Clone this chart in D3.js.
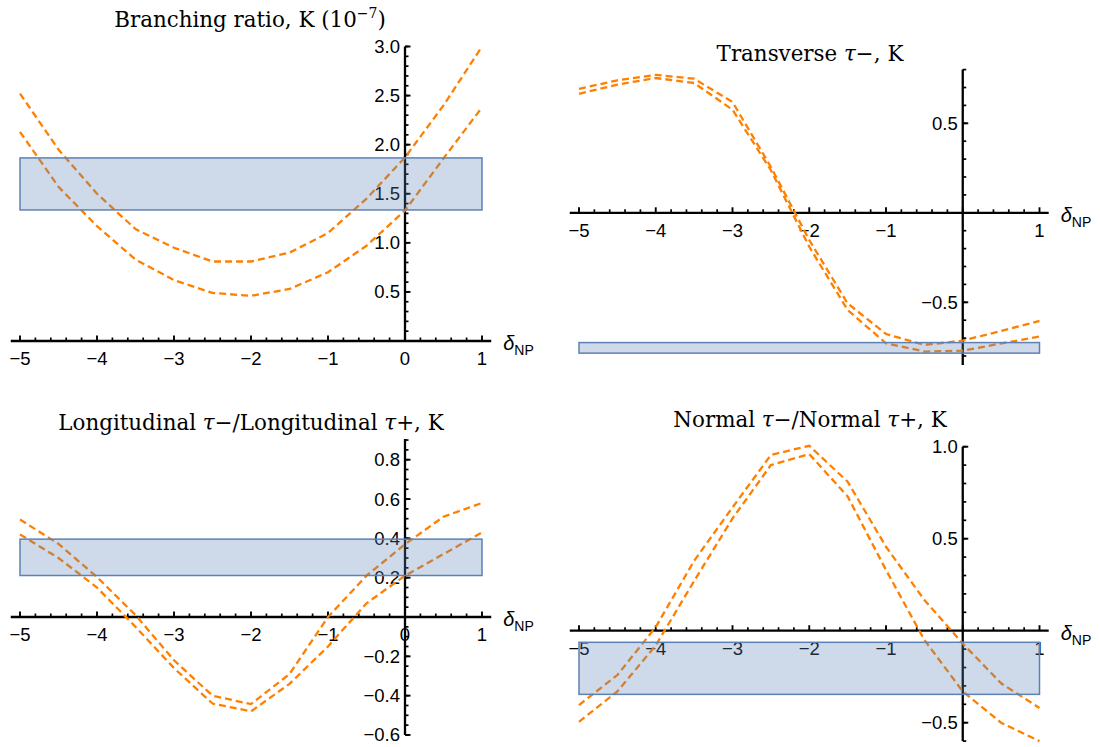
<!DOCTYPE html>
<html><head><meta charset="utf-8">
<script src="https://cdn.jsdelivr.net/npm/d3@7"></script>
<style>
body{margin:0;background:#fff;}
svg{display:block;}
.tick-label{font-family:"Liberation Sans",Arial,sans-serif;font-size:18.5px;fill:#000;}
.title{font-family:"DejaVu Serif",serif;font-size:21.4px;fill:#000;}
</style></head>
<body>
<svg id="chart" width="1100" height="747"></svg>
<script>
// ---------------- data ----------------
const deltaNP = [-5, -4.5, -4, -3.5, -3, -2.5, -2, -1.5, -1, -0.5, 0, 0.5, 1];

const brUpper = [2.52, 1.95, 1.50, 1.14, 0.95, 0.81, 0.81, 0.90, 1.10, 1.45, 1.87, 2.40, 3.00];
const brLower = [2.13, 1.57, 1.17, 0.83, 0.62, 0.49, 0.46, 0.53, 0.70, 0.97, 1.33, 1.86, 2.38];
const brBand = [1.335, 1.865];

const transUpper = [0.693, 0.740, 0.771, 0.749, 0.619, 0.256, -0.152, -0.506, -0.677, -0.738, -0.714, -0.660, -0.604];
const transLower = [0.665, 0.716, 0.753, 0.725, 0.576, 0.238, -0.190, -0.543, -0.729, -0.775, -0.770, -0.730, -0.691];
const transBand = [-0.784, -0.725];

const longUpper = [0.496, 0.372, 0.203, 0.010, -0.220, -0.400, -0.443, -0.290, 0.000, 0.210, 0.370, 0.510, 0.580];
const longLower = [0.420, 0.300, 0.150, -0.050, -0.260, -0.440, -0.480, -0.340, -0.150, 0.070, 0.210, 0.320, 0.430];
const longBand = [0.211, 0.396];

const normUpper = [-0.404, -0.241, 0.020, 0.380, 0.670, 0.955, 1.005, 0.810, 0.456, 0.167, -0.070, -0.286, -0.420];
const normLower = [-0.495, -0.330, -0.080, 0.270, 0.610, 0.900, 0.960, 0.730, 0.330, -0.050, -0.330, -0.500, -0.600];
const normBand = [-0.346, -0.063];

const xTickValues = [-5, -4, -3, -2, -1, 0, 1];
const brYTicks = [0.5, 1.0, 1.5, 2.0, 2.5, 3.0];
const transYTicks = [-0.5, 0.5];
const longYTicks = [-0.6, -0.4, -0.2, 0.2, 0.4, 0.6, 0.8];
const normYTicks = [-0.5, 0.5, 1.0];

// ---------------- layout ----------------
const panels = [
  {upper: brUpper, lower: brLower, band: brBand, yTicks: brYTicks, yFmt: d3.format(".1f"),
   xRange: [20, 482], yDom: [0, 3], yRange: [341, 46.5], yExt: [0, 3.0], yMinorStep: 0.1,
   showZero: true, titleX: 250, titleY: 27,
   title: [["Branching ratio, K (10", "n"], ["−7", "sup"], [")", "n"]]},
  {upper: transUpper, lower: transLower, band: transBand, yTicks: transYTicks, yFmt: d3.format(".1f"),
   xRange: [579, 1039.5], yDom: [0, 0.5], yRange: [212.8, 123.3], yExt: [-0.85, 0.8], yMinorStep: 0.1,
   showZero: false, titleX: 810, titleY: 61,
   title: [["Transverse ", "n"], ["τ", "i"], ["−, K", "n"]]},
  {upper: longUpper, lower: longLower, band: longBand, yTicks: longYTicks, yFmt: d3.format(".1f"),
   xRange: [20, 482], yDom: [0, 0.8], yRange: [617, 459.7], yExt: [-0.6, 0.905], yMinorStep: 0.05,
   showZero: true, titleX: 251, titleY: 430,
   title: [["Longitudinal ", "n"], ["τ", "i"], ["−/Longitudinal ", "n"], ["τ", "i"], ["+, K", "n"]]},
  {upper: normUpper, lower: normLower, band: normBand, yTicks: normYTicks, yFmt: d3.format(".1f"),
   xRange: [579, 1039.5], yDom: [0, 1], yRange: [630.7, 446.7], yExt: [-0.6, 1.0], yMinorStep: 0.1,
   showZero: false, titleX: 810, titleY: 427,
   title: [["Normal ", "n"], ["τ", "i"], ["−/Normal ", "n"], ["τ", "i"], ["+, K", "n"]]}
];

const svg = d3.select("#chart");
const orange = "#ff8000";
const bandFill = "rgba(94,129,181,0.3)";
const bandStroke = "#5e81b5";
const minus = s => s.replace("-", "−");

panels.forEach(p => {
  const x = d3.scaleLinear().domain([-5, 1]).range(p.xRange);
  const y = d3.scaleLinear().domain(p.yDom).range(p.yRange);
  const g = svg.append("g");
  const x0 = x(0), y0 = y(0);
  const xExt = [-5.12, 1.12];

  // x axis line
  g.append("line").attr("x1", x(xExt[0])).attr("x2", x(xExt[1]))
    .attr("y1", y0).attr("y2", y0).attr("stroke", "#000").attr("stroke-width", 2.3);
  // y axis line
  g.append("line").attr("x1", x0).attr("x2", x0)
    .attr("y1", y(p.yExt[0])).attr("y2", y(p.yExt[1])).attr("stroke", "#000").attr("stroke-width", 2.3);

  // x minor ticks
  const xMinor = d3.range(-5, 1.0001, 0.2).filter(v => Math.abs(v - Math.round(v)) > 1e-6);
  g.selectAll(null).data(xMinor).enter().append("line")
    .attr("x1", d => x(d)).attr("x2", d => x(d)).attr("y1", y0).attr("y2", y0 - 3.5)
    .attr("stroke", "#000").attr("stroke-width", 1.7);
  g.selectAll(null).data(xTickValues).enter().append("line")
    .attr("x1", d => x(d)).attr("x2", d => x(d)).attr("y1", y0).attr("y2", y0 - 5.5)
    .attr("stroke", "#000").attr("stroke-width", 1.9);
  g.selectAll(null).data(xTickValues.filter(v => p.showZero || v !== 0)).enter().append("text")
    .attr("class", "tick-label").attr("x", d => x(d)).attr("y", y0 + 24)
    .attr("text-anchor", "middle").text(d => minus(String(d)));

  // y minor ticks
  const n0 = Math.ceil(p.yExt[0] / p.yMinorStep - 1e-6), n1 = Math.floor(p.yExt[1] / p.yMinorStep + 1e-6);
  const yMinor = d3.range(n0, n1 + 1).map(k => k * p.yMinorStep).filter(v => Math.abs(v) > 1e-6);
  g.selectAll(null).data(yMinor).enter().append("line")
    .attr("x1", x0).attr("x2", x0 + 3.5).attr("y1", d => y(d)).attr("y2", d => y(d))
    .attr("stroke", "#000").attr("stroke-width", 1.7);
  g.selectAll(null).data(p.yTicks).enter().append("line")
    .attr("x1", x0).attr("x2", x0 + 5.5).attr("y1", d => y(d)).attr("y2", d => y(d))
    .attr("stroke", "#000").attr("stroke-width", 1.9);
  g.selectAll(null).data(p.yTicks).enter().append("text")
    .attr("class", "tick-label").attr("x", x0 - 5).attr("y", d => y(d) + 6.5)
    .attr("text-anchor", "end").text(d => minus(p.yFmt(d)));

  // delta_NP label
  const lab = g.append("text").attr("x", x(xExt[1]) + 12).attr("y", y0 + 9)
    .attr("font-family", "Liberation Sans, Arial, sans-serif").attr("font-size", 20);
  lab.append("tspan").attr("font-style", "italic").text("δ");
  lab.append("tspan").attr("font-size", 14).attr("dy", 5).text("NP");

  // curves
  const line = d3.line().x((d, i) => x(deltaNP[i])).y(d => y(d));
  [p.upper, p.lower].forEach(series => {
    g.append("path").attr("d", line(series)).attr("fill", "none")
      .attr("stroke", orange).attr("stroke-width", 2.3).attr("stroke-dasharray", "7,4");
  });

  // band
  g.append("rect").attr("x", x(-5)).attr("width", x(1) - x(-5))
    .attr("y", y(p.band[1])).attr("height", y(p.band[0]) - y(p.band[1]))
    .attr("fill", bandFill).attr("stroke", bandStroke).attr("stroke-width", 1.5);

  // title
  const t = g.append("text").attr("class", "title").attr("x", p.titleX).attr("y", p.titleY)
    .attr("text-anchor", "middle");
  p.title.forEach(([s, kind]) => {
    const ts = t.append("tspan").text(s);
    if (kind === "i") ts.attr("font-style", "italic");
    if (kind === "sup") ts.attr("font-size", 14).attr("dy", -9);
    if (kind === "n" && s === ")") ts.attr("dy", 9);
  });
});
</script>
</body></html>
